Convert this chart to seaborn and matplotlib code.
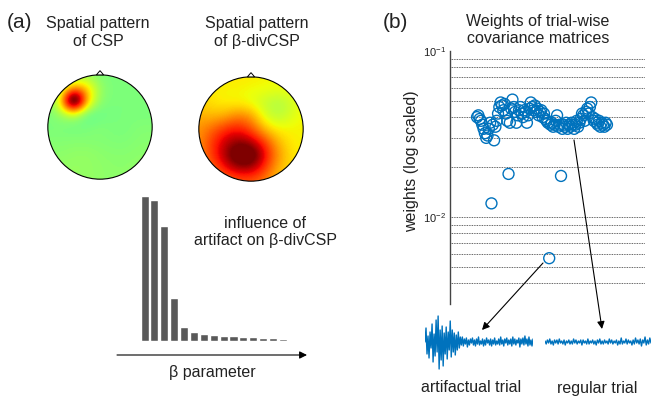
import numpy as np
import matplotlib
matplotlib.use("Agg")
import matplotlib.pyplot as plt
import seaborn as sns
from matplotlib.patches import Circle, Polygon

# ---- data ----
# topomap values on a 9x9 grid (rows top -> bottom, cols left -> right), 0 = light green, >=1 = dark red
csp_pattern = [
    [0.00, 0.00, 0.05, 0.05, 0.00, 0.00, 0.00, 0.00, 0.00],
    [0.00, 0.08, 0.45, 0.40, 0.06, 0.00, 0.00, 0.00, 0.00],
    [0.00, 0.30, 1.80, 0.45, 0.03, 0.00, 0.00, 0.00, 0.00],
    [0.00, 0.06, 0.15, -0.08, -0.04, 0.00, 0.00, 0.00, 0.00],
    [0.00, 0.00, -0.03, 0.00, 0.02, 0.00, 0.00, 0.02, 0.02],
    [0.02, 0.02, 0.03, 0.02, 0.02, 0.01, 0.01, 0.03, 0.03],
    [0.04, 0.04, 0.05, 0.06, 0.04, 0.03, 0.03, 0.04, 0.04],
    [0.05, 0.06, 0.07, 0.06, 0.05, 0.04, 0.04, 0.05, 0.04],
    [0.05, 0.05, 0.06, 0.06, 0.05, 0.04, 0.04, 0.04, 0.04],
]
beta_pattern = [
    [0.32, 0.32, 0.32, 0.33, 0.32, 0.30, 0.30, 0.30, 0.30],
    [0.34, 0.32, 0.30, 0.30, 0.28, 0.28, 0.26, 0.28, 0.30],
    [0.38, 0.34, 0.30, 0.30, 0.26, 0.18, 0.12, 0.18, 0.30],
    [0.45, 0.42, 0.45, 0.55, 0.50, 0.24, 0.14, 0.22, 0.30],
    [0.50, 0.60, 0.72, 0.78, 0.66, 0.42, 0.30, 0.30, 0.30],
    [0.50, 0.70, 0.88, 0.98, 0.92, 0.72, 0.45, 0.32, 0.30],
    [0.50, 0.70, 0.92, 1.20, 1.20, 0.85, 0.52, 0.35, 0.30],
    [0.45, 0.60, 0.78, 0.92, 0.92, 0.72, 0.45, 0.35, 0.30],
    [0.40, 0.45, 0.55, 0.62, 0.62, 0.55, 0.40, 0.35, 0.30],
]

# influence of the artifact for increasing beta
beta_steps = list(range(15))
influence = [1.0, 0.97, 0.79, 0.30, 0.099, 0.062, 0.048, 0.041, 0.037,
             0.032, 0.030, 0.027, 0.024, 0.020, 0.016]

# trial-wise weights
weights = [
    0.040, 0.041, 0.039, 0.038, 0.036, 0.034, 0.032, 0.030, 0.031, 0.034,
    0.037, 0.0121, 0.036, 0.029, 0.035, 0.038, 0.042, 0.046, 0.049, 0.047,
    0.044, 0.048, 0.042, 0.038, 0.0182, 0.037, 0.045, 0.051, 0.046, 0.043,
    0.037, 0.041, 0.044, 0.046, 0.042, 0.040, 0.044, 0.043, 0.037, 0.041,
    0.045, 0.049, 0.046, 0.044, 0.047, 0.043, 0.045, 0.041, 0.043, 0.044,
    0.040, 0.042, 0.039, 0.038, 0.037, 0.00566, 0.036, 0.037, 0.035, 0.036,
    0.038, 0.041, 0.035, 0.036, 0.0177, 0.034, 0.036, 0.035, 0.037, 0.034,
    0.036, 0.035, 0.037, 0.036, 0.034, 0.036, 0.038, 0.035, 0.037, 0.039,
    0.042, 0.041, 0.038, 0.043, 0.045, 0.042, 0.046, 0.049, 0.040, 0.038,
    0.039, 0.037, 0.036, 0.038, 0.035, 0.037, 0.036, 0.035, 0.037, 0.036,
]
trials = list(range(1, len(weights) + 1))

# example EEG traces (pixel-ish amplitude units)
artifact_trial = [
    0, 14, -12, 6, -16, 10, -6, 18, -20, 8, -14, 22, -10, 26, -27, 12, -18, 16,
    -24, 9, -12, 15, -17, 10, -8, 21, -15, 12, -10, 9, -13, 7, -8, 10, -6, 5,
    -3, 5, -4, 3, -2, 4, -5, 2, -3, 3, -1, 4, -3, 2, -4, 3, -2, 5, -3, 1, -2, 3,
    -4, 2, -3, 4, -1, 2, -3, 3, -4, 2, -2, 4, -3, 1, -2, 3, -3, 5, -2, 2, -4, 3,
    -1, 4, -3, 2, -2, 3, -4, 5, -2, 3, -3, 2, -1, 4, -5, 3, -2, 4, -3, 6, -2, 3,
    -4, 5, -3, 2, -4, 3,
]
regular_trial = [
    1, -2, 2, -1, 3, -2, 1, -3, 2, -1, 2, -2, 3, -1, 1, -2, 2, -3, 1, -1, 2, -2,
    1, -2, 3, -1, 2, -2, 1, -1, 2, -3, 2, -1, 1, -2, 3, -2, 1, -1, 2, -2, 1, -3,
    2, -1, 3, -2, 1, -2, 2, -1, 1, -2, 3, -1, 2, -2, 1, -1, 2, -3, 1, -2, 4, -2,
    1, -1, 3, -2, 2, -1, 1, -3, 2, -2, 4, -1, 2, -2, 3, -4, 2, -1, 5, -3, 2, -2,
    4, -1,
]

# ---- style ----
sns.set_style("white")
plt.rcParams["font.family"] = ["Liberation Sans", "DejaVu Sans"]
plt.rcParams["mathtext.fontset"] = "custom"
plt.rcParams["mathtext.rm"] = "Liberation Sans"
plt.rcParams["mathtext.it"] = "Liberation Sans:italic"

W, H = 651, 399
txt = "#222222"
blue = "#0072BD"


def box(x0, y0, x1, y1):
    # pixel box (top-left origin) -> figure fraction rect
    return [x0 / W, 1 - y1 / H, (x1 - x0) / W, (y1 - y0) / H]


def fpt(x, y):
    return (x / W, 1 - y / H)


fig = plt.figure(figsize=(W / 100, H / 100), dpi=100)


# ---- topomaps ----
def topomap(rect, values):
    ax = fig.add_axes(rect)
    ax.set_xlim(-1.15, 1.15)
    ax.set_ylim(-1.15, 1.15)
    ax.set_aspect("equal")
    ax.axis("off")
    head = Circle((0, 0), 1.0, facecolor="none", edgecolor="black", lw=0.8, zorder=3)
    ax.add_patch(head)
    im = ax.imshow(np.array(values), cmap="jet", vmin=-1, vmax=1,
                   extent=[-1.125, 1.125, -1.125, 1.125], interpolation="bicubic")
    im.set_clip_path(head)
    nose = Polygon([[-0.07, 0.998], [0, 1.08], [0.07, 0.998]], closed=True,
                   facecolor="white", edgecolor="black", lw=0.7, zorder=3)
    ax.add_patch(nose)
    return ax


topomap(box(40, 67, 160, 187), csp_pattern)
topomap(box(191, 69, 311, 189), beta_pattern)

# ---- bar chart of artifact influence ----
ax_b = fig.add_axes(box(140.5, 196, 287, 341))
sns.barplot(x=beta_steps, y=influence, color="#595959", saturation=1,
            width=0.82, ax=ax_b)
ax_b.set_xlim(-0.41, 14.41)
ax_b.set_ylim(0, 1.0)
ax_b.axis("off")

# ---- scatter of trial weights ----
ax_s = fig.add_axes(box(450, 51, 645, 304))
sns.scatterplot(x=trials, y=weights, ax=ax_s, s=62, marker="o",
                facecolor="none", edgecolor=blue, linewidth=1.0, zorder=3)
ax_s.set_yscale("log")
ax_s.set_ylim(0.003, 0.1)
ax_s.set_xlim(-19.6, 129)
ax_s.set_xticks([])
ax_s.set_yticks([0.01, 0.1])
ax_s.set_yticklabels([r"$10^{-2}$", r"$10^{-1}$"])
ax_s.tick_params(axis="y", which="major", length=2, pad=1, labelsize=8,
                 labelcolor=txt, color="#444444")
ax_s.tick_params(axis="y", which="minor", length=0)
ax_s.yaxis.grid(True, which="minor", linestyle=(0, (1, 1)), color="#333333", lw=0.6)
ax_s.axhline(0.01, linestyle=(0, (1, 1)), color="#333333", lw=0.6, zorder=0)
for side in ["top", "right", "bottom"]:
    ax_s.spines[side].set_visible(False)
ax_s.spines["left"].set_color("#444444")
ax_s.spines["left"].set_linewidth(1.0)
ax_s.set_xlabel("")
ax_s.set_ylabel("")

# ---- example traces ----
ax_w1 = fig.add_axes(box(425, 309, 533, 375))
sns.lineplot(x=range(len(artifact_trial)), y=artifact_trial, color=blue,
             lw=1.0, estimator=None, ax=ax_w1)
ax_w1.set_ylim(-33, 33)
ax_w1.set_xlim(0, len(artifact_trial) - 1)
ax_w1.axis("off")

ax_w2 = fig.add_axes(box(545, 309, 651, 375))
sns.lineplot(x=range(len(regular_trial)), y=regular_trial, color=blue,
             lw=1.0, estimator=None, ax=ax_w2)
ax_w2.set_ylim(-33, 33)
ax_w2.set_xlim(0, len(regular_trial) - 1)
ax_w2.axis("off")

# ---- arrows ----
arrow = dict(arrowstyle="-|>", color="black", lw=0.8, mutation_scale=11,
             shrinkA=0, shrinkB=0)
for start, end in [((117, 355), (307, 355)),
                   ((543, 263), (482, 330)),
                   ((574, 140), (602, 329))]:
    ax_s.annotate("", xy=fpt(*end), xycoords="figure fraction",
                  xytext=fpt(*start), textcoords="figure fraction",
                  arrowprops=arrow, annotation_clip=False)

# ---- texts ----
fs = 11.5
fig.text(*fpt(7, 22), "(a)", fontsize=15, color=txt, ha="left", va="center")
fig.text(*fpt(383, 22), "(b)", fontsize=15, color=txt, ha="left", va="center")
fig.text(*fpt(98, 32.5), "Spatial pattern\nof CSP", fontsize=fs, color=txt,
         ha="center", va="center")
fig.text(*fpt(257, 32.5), "Spatial pattern\nof β-divCSP", fontsize=fs, color=txt,
         ha="center", va="center")
fig.text(*fpt(265, 232), "influence of\nartifact on β-divCSP", fontsize=fs,
         color=txt, ha="center", va="center")
fig.text(*fpt(212, 373), "β parameter", fontsize=fs, color=txt,
         ha="center", va="center")
fig.text(*fpt(538, 30), "Weights of trial-wise\ncovariance matrices", fontsize=fs,
         color=txt, ha="center", va="center")
fig.text(*fpt(412, 161), "weights (log scaled)", fontsize=fs, color=txt,
         ha="center", va="center", rotation=90)
fig.text(*fpt(471, 388), "artifactual trial", fontsize=fs, color=txt,
         ha="center", va="center")
fig.text(*fpt(597, 389), "regular trial", fontsize=fs, color=txt,
         ha="center", va="center")

fig.savefig("out.png", dpi=100)
